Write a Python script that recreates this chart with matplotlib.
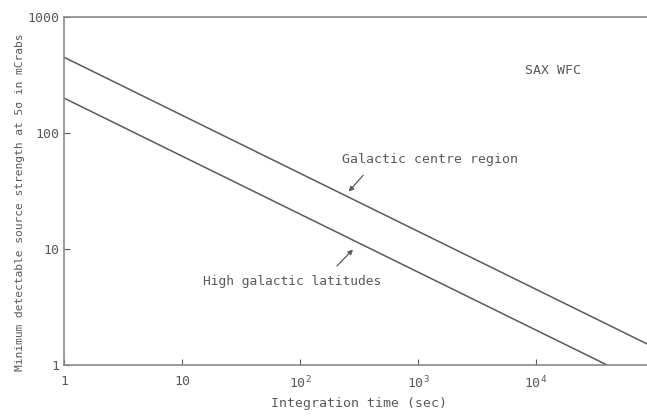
import numpy as np
import matplotlib
matplotlib.use("Agg")
import matplotlib.pyplot as plt

# Sensitivity limits (mCrab) versus integration time (s)
t_centre = [1, 1e5]
s_centre = [450, 1.42]
t_high = [1, 4e4]
s_high = [200, 1.0]

y_ticks = [1, 10, 100, 1000]
y_labels = ["1", "10", "100", "1000"]
x_ticks = [1, 10, 100, 1000, 10000]
x_labels = ["1", "10", r"10$^2$", r"10$^3$", r"10$^4$"]

ink = "#5a5a5a"
plt.rcParams["font.family"] = ["DejaVu Sans Mono", "DejaVu Sans"]
plt.rcParams["mathtext.default"] = "regular"

fig = plt.figure(figsize=(6.47, 4.16), dpi=100)
ax = fig.add_axes([64 / 647, 51 / 416, 590 / 647, 348 / 416])

ax.plot(t_centre, s_centre, color=ink, lw=1.1)
ax.plot(t_high, s_high, color=ink, lw=1.1)

ax.set_xscale("log")
ax.set_yscale("log")
ax.set_xlim(1, 1e5)
ax.set_ylim(1, 1000)

ax.set_xticks(x_ticks)
ax.set_xticklabels(x_labels)
ax.set_yticks(y_ticks)
ax.set_yticklabels(y_labels)
ax.minorticks_off()
ax.tick_params(direction="in", length=4, width=0.8, color=ink,
               labelcolor=ink, labelsize=9.5)
ax.tick_params(axis="x", pad=7)
ax.tick_params(axis="y", pad=3.5)

for side in ("left", "bottom", "top"):
    ax.spines[side].set_color("#8a8a8a")
    ax.spines[side].set_linewidth(1.2)
ax.spines["right"].set_visible(False)

ax.set_xlabel("Integration time (sec)", color=ink, fontsize=9.5, labelpad=4)
ax.set_ylabel("Minimum detectable source strength at 5\u03c3 in mCrabs",
              color=ink, fontsize=8.1)
ax.yaxis.set_label_coords(-0.066, 0.468)

ax.text(8000, 349, "SAX WFC", color=ink, fontsize=9.5, va="center", ha="left")
ax.text(227, 59, "Galactic centre region", color=ink, fontsize=9.5,
        va="center", ha="left")
ax.text(15, 5.2, "High galactic latitudes", color=ink, fontsize=9.3,
        va="center", ha="left")

arrow = dict(arrowstyle="-|>", color=ink, lw=0.9, mutation_scale=7)
ax.annotate("", xy=(250, 30), xytext=(355, 45), arrowprops=arrow)
ax.annotate("", xy=(292, 10.3), xytext=(198, 6.86), arrowprops=arrow)

fig.savefig("out.png", dpi=100)
